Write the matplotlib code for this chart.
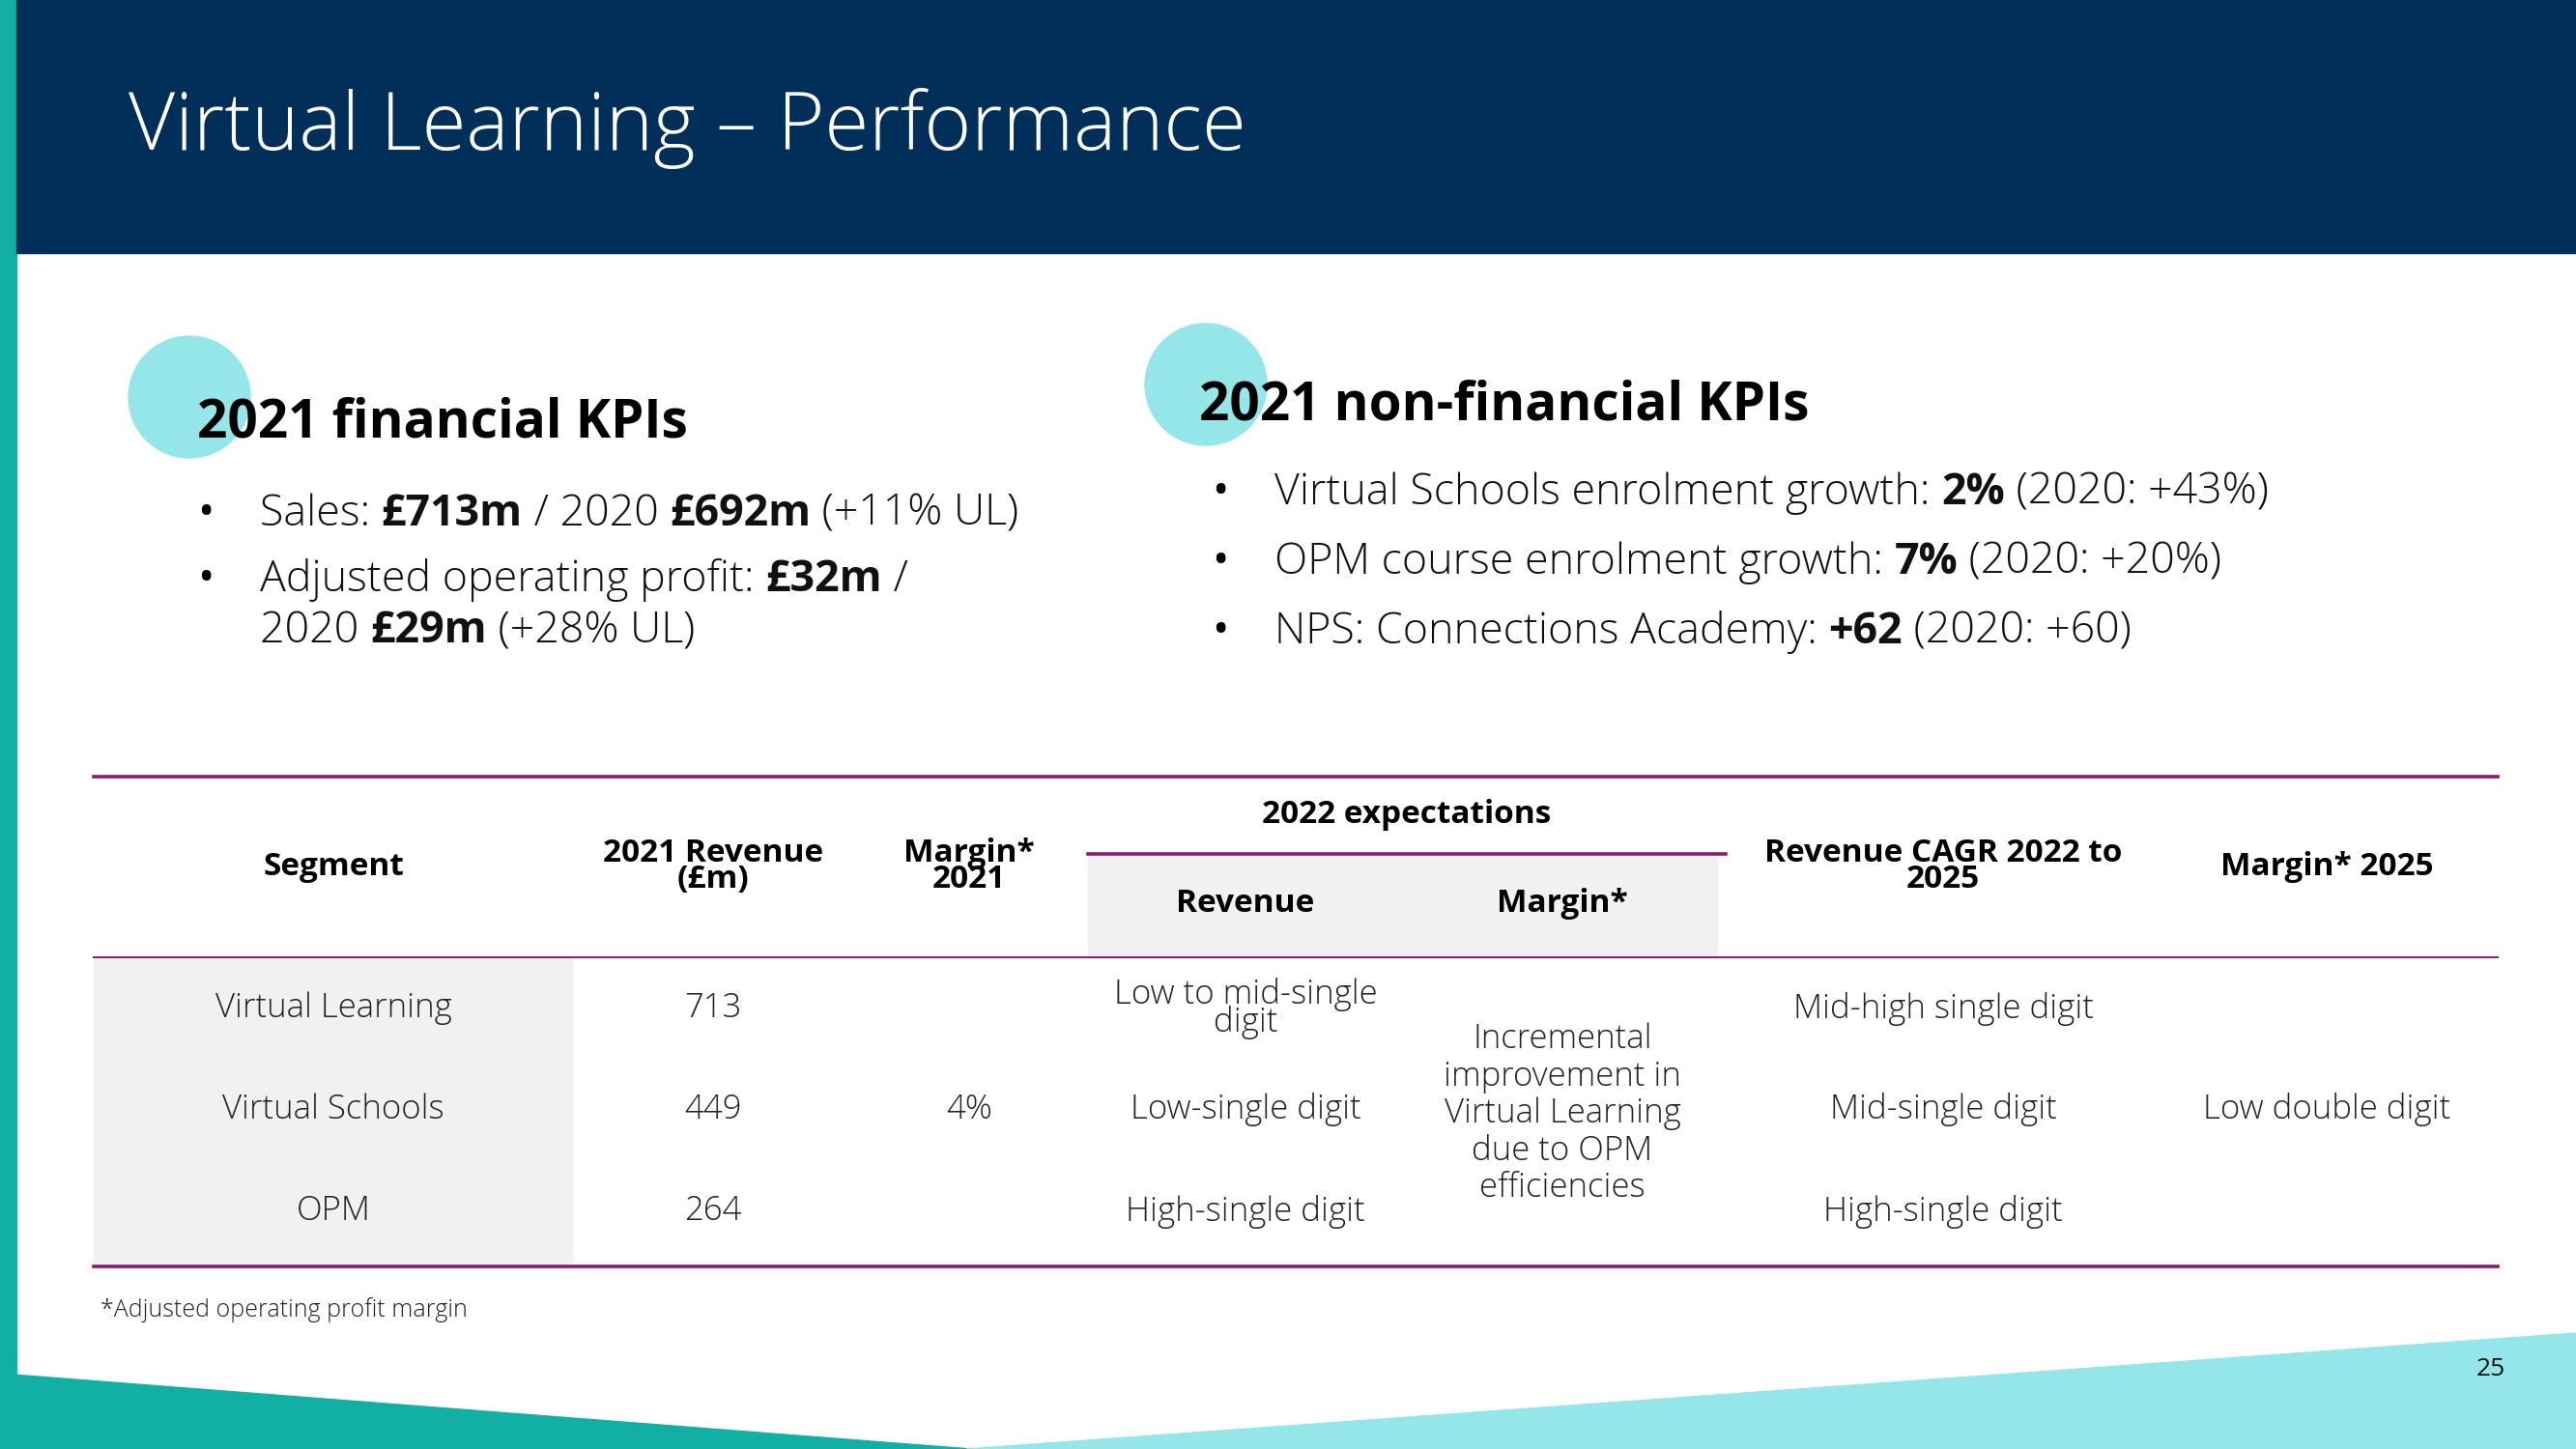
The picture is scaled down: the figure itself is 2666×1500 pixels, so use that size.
import matplotlib
matplotlib.use('Agg')
import matplotlib.pyplot as plt
from matplotlib.patches import Rectangle, Polygon, Circle

plt.rcParams['font.family'] = ['Open Sans', 'DejaVu Sans']

W, H = 2666, 1500
NAVY = '#00305A'
TEAL = '#12AFA5'
CYAN = '#95E6E8'
PURPLE = '#8A1C6E'
GREY = '#F1F1F1'

title = 'Virtual Learning – Performance'

# left block: (text, bold) runs, one list per printed line
fin_heading = '2021 financial KPIs'
fin_bullets = [
    [[('Sales: ', 0), ('£713m', 1), (' / 2020 ', 0), ('£692m', 1), (' (+11% UL)', 0)]],
    [[('Adjusted operating profit: ', 0), ('£32m', 1), (' /', 0)],
     [('2020 ', 0), ('£29m', 1), (' (+28% UL)', 0)]],
]

nonfin_heading = '2021 non-financial KPIs'
nonfin_bullets = [
    [[('Virtual Schools enrolment growth: ', 0), ('2%', 1), (' (2020: +43%)', 0)]],
    [[('OPM course enrolment growth: ', 0), ('7%', 1), (' (2020: +20%)', 0)]],
    [[('NPS: Connections Academy: ', 0), ('+62', 1), (' (2020: +60)', 0)]],
]

# table
col_headers = ['Segment', '2021 Revenue\n(£m)', 'Margin*\n2021', 'Revenue', 'Margin*',
               'Revenue CAGR 2022 to\n2025', 'Margin* 2025']
group_header = '2022 expectations'
segments = ['Virtual Learning', 'Virtual Schools', 'OPM']
revenue_2021 = [713, 449, 264]
margin_2021 = '4%'
revenue_2022 = ['Low to mid-single\ndigit', 'Low-single digit', 'High-single digit']
margin_2022 = 'Incremental\nimprovement in\nVirtual Learning\ndue to OPM\nefficiencies'
cagr_2025 = ['Mid-high single digit', 'Mid-single digit', 'High-single digit']
margin_2025 = 'Low double digit'
footnote = '*Adjusted operating profit margin'
page_no = '25'

fig = plt.figure(figsize=(W / 100, H / 100), dpi=100)
ax = fig.add_axes([0, 0, 1, 1])
ax.set_xlim(0, W)
ax.set_ylim(H, 0)
ax.axis('off')
renderer = fig.canvas.get_renderer()

# background shapes
ax.add_patch(Rectangle((0, 0), 17, H, color=TEAL, zorder=1))
ax.add_patch(Rectangle((17, 0), W - 17, 262, color=NAVY, zorder=1))
ax.add_patch(Polygon([(0, 1422), (1005, 1500), (0, 1500)], color=TEAL, zorder=1))
ax.add_patch(Polygon([(1000, 1500), (W, 1380), (W, 1500)], color=CYAN, zorder=1))
ax.text(133, 133, title, color='white', fontsize=60, fontweight='light', va='center')

def draw_runs(x, y, runs, size):
    for txt, bold in runs:
        t = ax.text(x, y, txt, fontsize=size, va='baseline', color='#111111',
                    fontweight='bold' if bold else 'light', zorder=3)
        x += t.get_window_extent(renderer).width

def kpi_block(cx, cy, hx, hy, heading, bullets, bx, tx, y0, gap, line_gap):
    ax.add_patch(Circle((cx, cy), 63, color=CYAN, zorder=2))
    ax.text(hx, hy, heading, fontsize=39.5, fontweight='bold', va='center', zorder=3)
    y = y0
    for lines in bullets:
        ax.text(bx, y, '•', fontsize=33, va='baseline', zorder=3)
        for runs in lines:
            draw_runs(tx, y, runs, 32.2)
            y += line_gap
        y += gap - line_gap

kpi_block(196, 411, 204, 438, fin_heading, fin_bullets, 204, 269, 544, 68, 53)
kpi_block(1248, 398, 1241, 420, nonfin_heading, nonfin_bullets, 1254, 1319, 522, 72, 72)

# table
x_left, x_right = 97, 2585
col_x = [345, 738, 1003, 1289, 1617, 2011, 2408]
y_top, y_sub, y_head, y_bot = 804, 884, 991, 1311
row_y = [1044, 1149, 1254]
HS, BS = 24, 25

ax.add_patch(Rectangle((1126, y_sub), 651, y_head - y_sub, color=GREY, zorder=1))
ax.add_patch(Rectangle((x_left, y_head), 495, y_bot - y_head, color=GREY, zorder=1))
ax.plot([x_left, x_right], [y_top, y_top], color=PURPLE, lw=2.6, zorder=2)
ax.plot([1126, 1786], [y_sub, y_sub], color=PURPLE, lw=2.6, zorder=2)
ax.plot([x_left, x_right], [y_head, y_head], color=PURPLE, lw=1.4, zorder=2)
ax.plot([x_left, x_right], [y_bot, y_bot], color=PURPLE, lw=2.6, zorder=2)

head_kw = dict(fontsize=HS, fontweight='bold', ha='center', va='center', linespacing=0.78, zorder=3)
body_kw = dict(fontsize=BS, fontweight='light', ha='center', va='center', color='#222222', zorder=3)
ax.text((1126 + 1786) / 2, 843, group_header, **head_kw)
for i, h in enumerate(col_headers):
    ax.text(col_x[i], 936 if i in (3, 4) else 897, h, **head_kw)

for i, seg in enumerate(segments):
    ax.text(col_x[0], row_y[i], seg, **body_kw)
    ax.text(col_x[1], row_y[i], str(revenue_2021[i]), **body_kw)
    ax.text(col_x[3], row_y[i], revenue_2022[i], linespacing=0.75, **body_kw)
    ax.text(col_x[5], row_y[i], cagr_2025[i], **body_kw)
ax.text(col_x[2], row_y[1], margin_2021, **body_kw)
ax.text(col_x[4], 1153, margin_2022, linespacing=1.15, **body_kw)
ax.text(col_x[6], row_y[1], margin_2025, **body_kw)

ax.text(104, 1356, footnote, fontsize=18, fontweight='light', va='center', color='#222222')
ax.text(2578, 1417, page_no, fontsize=19, ha='center', va='center', color='#111111')

fig.savefig('out.png', dpi=100)
